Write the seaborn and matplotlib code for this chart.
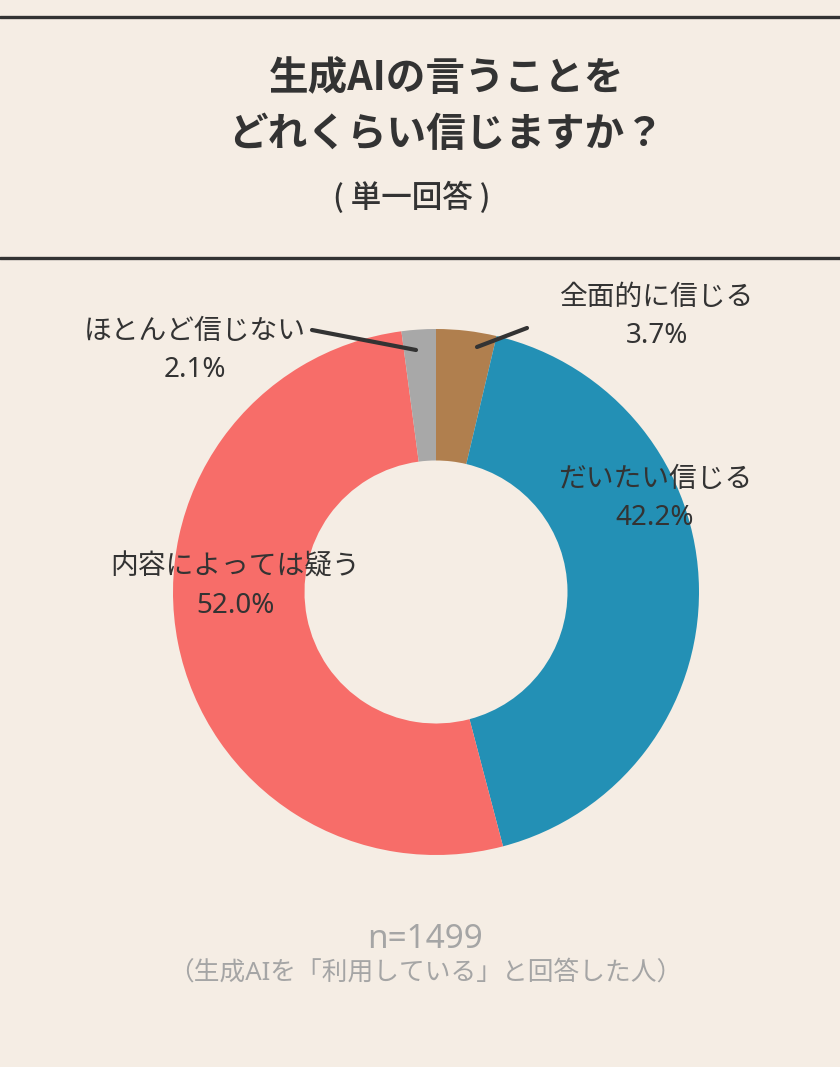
import matplotlib
matplotlib.use("Agg")
import matplotlib.pyplot as plt
from matplotlib.lines import Line2D
import seaborn as sns

# data
labels = ["全面的に信じる", "だいたい信じる", "内容によっては疑う", "ほとんど信じない"]
values = [3.7, 42.2, 52.0, 2.1]
colors = ["#B07F4E", "#2390B5", "#F76D69", "#A8A8A8"]

title_lines = ["生成AIの言うことを", "どれくらい信じますか？"]
subtitle = "( 単一回答 )"
note_n = "n=1499"
note_sub = "（生成AIを「利用している」と回答した人）"

sns.set_style("white")
plt.rcParams['font.family'] = ['Noto Sans', 'Noto Sans CJK JP', 'DejaVu Sans']
CJK = ['Noto Sans CJK JP', 'DejaVu Sans']

W, H = 840, 1067
BG = "#F5EDE4"
DARK = "#333333"
fig = plt.figure(figsize=(W / 100, H / 100), dpi=100, facecolor=BG)


def fx(px):
    return px / W


def fy(py):
    return 1 - py / H


# header rules
for yy in (17, 258):
    fig.add_artist(Line2D([0, 1], [fy(yy), fy(yy)], color=DARK, lw=2.4,
                          transform=fig.transFigure))

fig.text(fx(447), fy(78), title_lines[0], ha="center", va="center",
         fontsize=28.5, fontweight="bold", color=DARK, family=CJK)
fig.text(fx(446), fy(135), title_lines[1], ha="center", va="center",
         fontsize=28.5, fontweight="bold", color=DARK, family=CJK)
fig.text(fx(412), fy(198), subtitle, ha="center", va="center",
         fontsize=22, fontweight="medium", color=DARK, family=CJK)

# donut
cx, cy, r = 436, 592, 263
half = 300
ax = fig.add_axes([fx(cx - half), fy(cy + half), 2 * half / W, 2 * half / H])
ax.set_facecolor(BG)
ax.pie(values, colors=colors, startangle=90, counterclock=False,
       radius=1, wedgeprops=dict(width=0.5, linewidth=0))
ax.set_xlim(-half / r, half / r)
ax.set_ylim(-half / r, half / r)
ax.set_aspect("equal")
ax.axis("off")

# labels
label_pos = [(657, 298), (655, 480), (235, 568), (195, 332)]
for lab, val, (px, py) in zip(labels, values, label_pos):
    fig.text(fx(px), fy(py), lab, ha="center", va="center",
             fontsize=20, color=DARK)
    fig.text(fx(px), fy(py + 38), f"{val:.1f}%", ha="center", va="center",
             fontsize=20, color=DARK)

# leader lines for small slices
for (x0, y0), (x1, y1) in [((527, 328), (477, 347)), ((312, 330), (416, 350))]:
    fig.add_artist(Line2D([fx(x0), fx(x1)], [fy(y0), fy(y1)], color=DARK,
                          lw=3, transform=fig.transFigure))

# footnote
fig.text(fx(425), fy(940), note_n, ha="center", va="center",
         fontsize=24, color="#A5A5A5")
fig.text(fx(425), fy(973), note_sub, ha="center", va="center",
         fontsize=18.5, color="#A5A5A5")

fig.savefig("out.png", dpi=100, facecolor=BG)
